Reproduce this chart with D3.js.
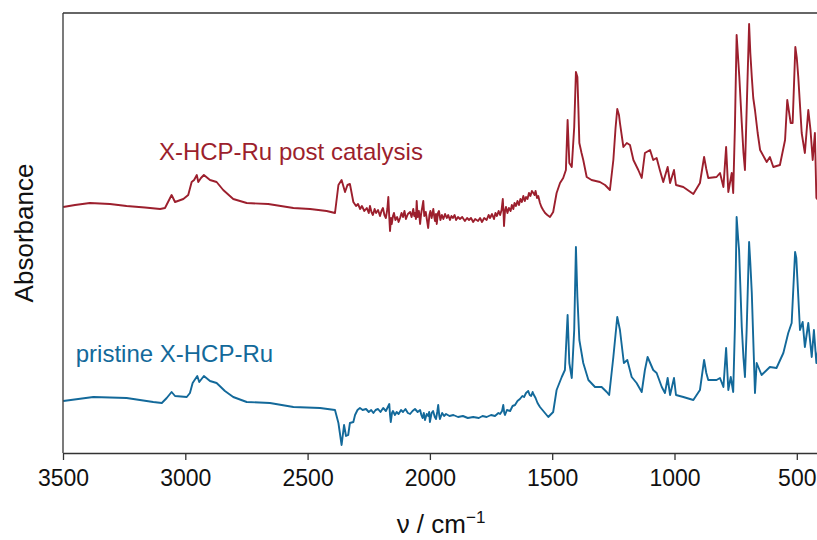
<!DOCTYPE html>
<html><head><meta charset="utf-8">
<script src="https://cdn.jsdelivr.net/npm/d3@7"></script>
<style>
html,body{margin:0;padding:0;background:#fff;}
svg{display:block;font-family:"Liberation Sans",Arial,sans-serif;}
</style></head>
<body>
<svg id="chart" width="817" height="540"></svg>
<script>
// ---- data (wavenumber cm^-1, absorbance a.u. with offset) ----
const seriesNames = ["X-HCP-Ru post catalysis", "pristine X-HCP-Ru"];
const xTicks = [3500, 3000, 2500, 2000, 1500, 1000, 500];

const postCatalysis = [
[3499,2.46],[3451,2.48],[3390,2.50],[3308,2.49],[3240,2.47],[3165,2.455],[3103,2.44],[3083,2.45],[3056,2.58],[3042,2.51],[3008,2.54],[2988,2.58],[2974,2.71],[2964,2.73],[2953,2.78],[2947,2.71],[2936,2.75],[2924,2.78],[2899,2.73],[2872,2.71],[2845,2.63],[2804,2.54],[2749,2.50],[2661,2.49],[2558,2.45],[2490,2.44],[2422,2.42],[2388,2.40],[2374,2.68],[2361,2.73],[2347,2.61],[2337,2.68],[2327,2.69],
[2313,2.51],[2302,2.47],[2294,2.49],[2285,2.44],[2278,2.47],[2268,2.42],[2258,2.45],[2250,2.40],[2245,2.47],[2239,2.41],[2233,2.38],[2226,2.44],[2220,2.40],[2212,2.43],[2204,2.37],[2198,2.42],[2192,2.45],[2186,2.38],[2180,2.35],[2174,2.44],[2170,2.56],[2167,2.40],[2163,2.22],[2159,2.35],[2156,2.29],[2151,2.37],[2147,2.40],[2141,2.33],[2134,2.36],[2128,2.31],[2122,2.35],[2116,2.40],[2110,2.36],[2104,2.42],[2098,2.34],[2090,2.39],[2081,2.41],[2075,2.36],[2068,2.44],[2064,2.37],[2061,2.40],[2057,2.34],[2054,2.52],[2050,2.36],[2045,2.42],[2040,2.29],[2036,2.39],[2031,2.46],[2027,2.52],[2023,2.37],[2017,2.41],[2012,2.33],[2007,2.25],[2002,2.38],[1998,2.42],[1993,2.35],[1986,2.44],[1982,2.36],[1979,2.32],[1975,2.39],[1972,2.29],[1967,2.40],[1963,2.42],[1957,2.33],[1951,2.38],[1945,2.34],[1938,2.39],[1931,2.35],[1925,2.38],[1918,2.33],[1912,2.37],[1906,2.35],[1899,2.38],[1893,2.33],[1885,2.36],[1877,2.34],[1868,2.36],[1857,2.32],[1848,2.35],[1840,2.33],[1832,2.35],[1823,2.31],[1815,2.34],[1803,2.32],[1795,2.35],[1787,2.31],[1778,2.35],[1768,2.33],[1760,2.38],[1754,2.35],[1746,2.39],[1738,2.34],[1732,2.40],[1726,2.37],[1719,2.42],[1713,2.38],[1707,2.43],[1702,2.54],[1699,2.40],[1697,2.27],[1693,2.42],[1689,2.46],[1683,2.40],[1677,2.45],[1670,2.42],[1665,2.48],[1659,2.44],[1654,2.50],[1648,2.47],[1642,2.52],[1636,2.48],[1630,2.54],[1624,2.51],[1618,2.57],[1612,2.52],[1607,2.56],[1601,2.54],[1595,2.60],[1589,2.57],[1583,2.62],[1577,2.60],[1572,2.58],[1568,2.62],[1562,2.55],[1557,2.57],[1550,2.50],[1544,2.46],[1537,2.43],[1529,2.40],[1520,2.38],[1509,2.36],
[1496,2.41],[1482,2.60],[1468,2.70],[1455,2.75],[1444,2.83],[1437,3.33],[1430,2.90],[1420,2.86],[1410,3.26],[1403,3.81],[1397,3.76],[1393,3.45],[1389,3.10],[1380,3.00],[1373,2.93],[1359,2.76],[1339,2.73],[1305,2.71],[1284,2.68],[1264,2.63],[1250,2.93],[1241,3.25],[1234,3.44],[1227,3.38],[1223,3.30],[1209,3.06],[1195,3.10],[1182,3.08],[1168,2.93],[1148,2.83],[1134,2.75],[1121,3.00],[1100,3.03],[1087,2.93],[1073,2.95],[1060,2.83],[1046,2.71],[1028,2.86],[1018,2.70],[1002,2.83],[994,2.68],[964,2.66],[923,2.59],[896,2.70],[879,2.96],[870,2.84],[862,2.75],
[828,2.76],[814,2.80],[800,2.66],[789,3.06],[780,2.61],[766,2.80],[760,2.60],[753,3.26],[746,4.18],[740,3.95],[735,3.76],[725,3.30],[718,3.00],[712,2.83],[705,3.43],[695,4.29],[690,4.00],[684,3.76],[678,3.55],[671,3.43],[660,3.20],[650,3.03],[623,2.91],[610,2.96],[596,2.86],[569,2.88],[548,3.13],[539,3.53],[525,3.30],[517,3.30],[506,4.06],[500,3.95],[494,3.76],[480,3.20],[467,3.00],[453,3.43],[444,3.23],[435,2.93],[426,3.20],[420,2.55],[413,2.53]
];

const pristine = [
[3499,0.52],[3376,0.56],[3240,0.55],[3131,0.51],[3096,0.50],[3076,0.55],[3056,0.61],[3042,0.57],[2994,0.56],[2981,0.60],[2970,0.70],[2951,0.77],[2943,0.71],[2924,0.77],[2899,0.72],[2872,0.70],[2838,0.62],[2804,0.56],[2749,0.51],[2654,0.50],[2558,0.46],[2449,0.45],[2388,0.43],[2374,0.30],[2361,0.08],[2351,0.28],[2343,0.17],[2334,0.18],[2327,0.30],[2313,0.31],
[2306,0.38],[2296,0.43],[2286,0.45],[2275,0.43],[2261,0.44],[2250,0.41],[2240,0.43],[2231,0.40],[2222,0.43],[2212,0.44],[2202,0.41],[2191,0.45],[2180,0.42],[2172,0.46],[2166,0.49],[2163,0.38],[2160,0.31],[2155,0.40],[2151,0.42],[2143,0.38],[2136,0.41],[2128,0.39],[2118,0.43],[2110,0.41],[2100,0.44],[2090,0.40],[2081,0.39],[2071,0.42],[2061,0.44],[2050,0.41],[2040,0.43],[2035,0.38],[2030,0.35],[2025,0.40],[2020,0.33],[2013,0.39],[2007,0.37],[2003,0.41],[2000,0.31],[1993,0.40],[1987,0.42],[1980,0.36],[1975,0.34],[1970,0.41],[1966,0.48],[1962,0.38],[1959,0.34],[1950,0.40],[1942,0.37],[1934,0.39],[1920,0.37],[1904,0.38],[1885,0.36],[1865,0.37],[1845,0.35],[1823,0.36],[1800,0.35],[1785,0.37],[1768,0.36],[1750,0.38],[1734,0.37],[1720,0.40],[1713,0.39],[1705,0.42],[1700,0.48],[1696,0.40],[1693,0.38],[1685,0.43],[1672,0.42],[1662,0.47],[1652,0.48],[1642,0.52],[1632,0.54],[1622,0.57],[1615,0.56],[1607,0.60],[1598,0.62],[1592,0.58],[1586,0.57],[1580,0.61],[1577,0.59],[1568,0.55],[1560,0.50],[1550,0.46],
[1516,0.36],[1496,0.41],[1482,0.63],[1461,0.76],[1448,0.83],[1437,1.38],[1430,0.90],[1420,0.75],[1410,1.23],[1403,2.06],[1397,1.56],[1389,1.13],[1373,0.90],[1352,0.73],[1325,0.66],[1298,0.66],[1277,0.61],[1267,0.58],[1250,0.96],[1234,1.36],[1223,1.23],[1207,0.90],[1193,0.93],[1175,0.76],[1155,0.70],[1134,0.61],[1121,0.83],[1110,0.96],[1087,0.83],[1073,0.80],[1052,0.66],[1039,0.60],[1028,0.75],[1018,0.58],[1002,0.75],[994,0.58],[964,0.56],[923,0.53],[896,0.63],[879,0.93],[870,0.80],[862,0.73],
[828,0.73],[814,0.75],[800,0.66],[789,1.05],[780,0.63],[770,0.76],[760,0.61],[753,1.26],[746,2.36],[740,2.15],[736,2.03],[725,1.26],[718,0.95],[712,0.76],[705,1.23],[695,2.11],[690,1.90],[684,1.60],[671,0.60],[664,0.90],[644,0.78],[610,0.86],[583,0.85],[555,1.00],[535,1.20],[521,1.30],[507,2.01],[502,1.95],[498,1.76],[487,1.23],[476,1.31],[467,1.06],[453,1.30],[439,0.96],[430,1.23],[420,0.90],[413,1.03]
];

// ---- drawing ----
const colors = ["#9c1f2d", "#13699a"];
const svg = d3.select("#chart");
const x = d3.scaleLinear().domain([3500, 400]).range([63, 63 + 3100 * 122.3 / 500]);
const y = d3.scaleLinear().domain([0, 4.4]).range([453, 13]);

const line = d3.line().x(d => x(d[0])).y(d => y(d[1]));

[postCatalysis, pristine].forEach((s, i) => {
  svg.append("path").datum(s)
    .attr("d", line)
    .attr("fill", "none")
    .attr("stroke", colors[i])
    .attr("stroke-width", 1.9)
    .attr("stroke-linejoin", "round");
});

// frame: left and top
const axisColor = "#333";
svg.append("line").attr("x1", x(3500)).attr("x2", x(3500)).attr("y1", y(0)).attr("y2", y(4.4))
  .attr("stroke", axisColor).attr("stroke-width", 1.3);
svg.append("line").attr("x1", x(3500)).attr("x2", x(400)).attr("y1", y(4.4)).attr("y2", y(4.4))
  .attr("stroke", axisColor).attr("stroke-width", 1.3);

const gx = svg.append("g").attr("transform", `translate(0,${y(0)})`)
  .call(d3.axisBottom(x).tickValues(xTicks).tickSize(7).tickSizeOuter(0).tickFormat(d3.format("d")));
gx.select(".domain").attr("stroke", axisColor).attr("stroke-width", 1.3);
gx.selectAll(".tick line").attr("stroke", axisColor).attr("stroke-width", 1.3);
gx.selectAll(".tick text").attr("y", 33).attr("dy", null)
  .attr("font-size", 23).attr("fill", "#111")
  .attr("font-family", "'Liberation Sans', Arial, sans-serif");

// axis titles
const xt = svg.append("text").attr("x", 441).attr("y", 533).attr("text-anchor", "middle")
  .attr("font-size", 26).attr("fill", "#111");
xt.append("tspan").text("ν / cm");
xt.append("tspan").attr("dy", -10).attr("font-size", 17).text("−1");

svg.append("text").attr("transform", "translate(33,233) rotate(-90)")
  .attr("text-anchor", "middle").attr("font-size", 26).attr("fill", "#111").text("Absorbance");

// series labels
const labelAnchors = [[3108, 2.93], [3448, 0.912]];
seriesNames.forEach((n, i) => {
  svg.append("text").attr("x", x(labelAnchors[i][0])).attr("y", y(labelAnchors[i][1]))
    .attr("font-size", 24).attr("fill", colors[i]).text(n);
});
</script>
</body></html>
